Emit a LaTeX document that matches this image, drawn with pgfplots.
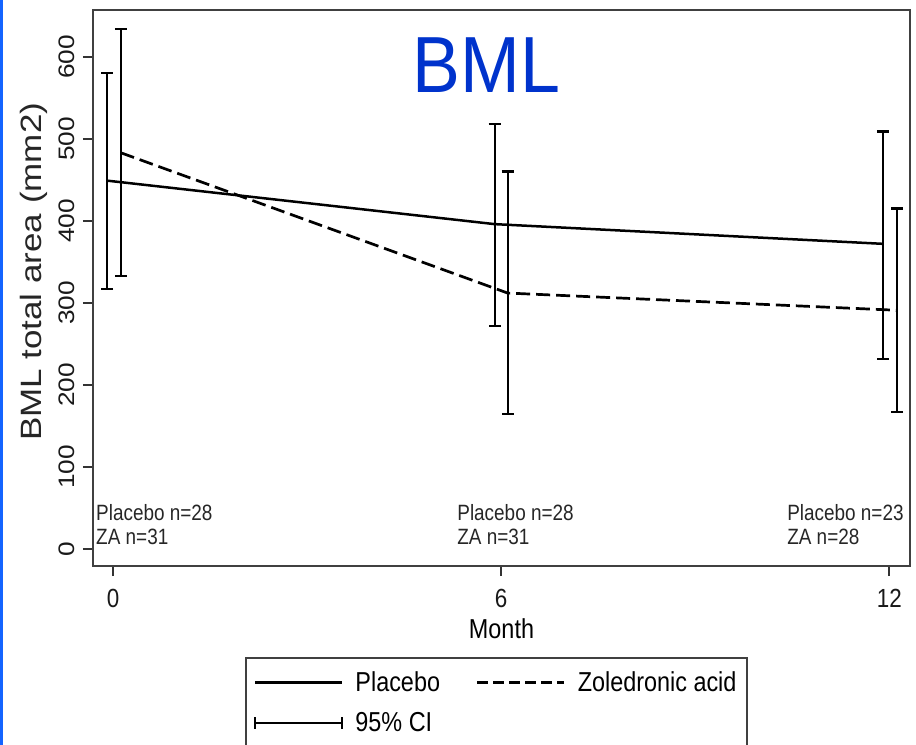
\documentclass[border=0pt]{standalone}
\usepackage{pgfplots}
\pgfplotsset{compat=1.18}
\usepackage{fontspec}
\setmainfont{Liberation Sans}
\usepackage{graphicx}
\definecolor{edgeblue}{RGB}{20,100,255}
\definecolor{titleblue}{RGB}{0,51,204}
\newcommand{\vs}[1]{\scalebox{1}[1.17]{#1}}
\newcommand{\hs}[1]{\scalebox{1.17}[1]{#1}}
\newcommand{\fs}[1]{\fontsize{#1}{#1}\selectfont}
\begin{document}
\begin{tikzpicture}
\path[use as bounding box] (0,0) rectangle (916bp,-745bp);
\clip (0,0) rectangle (916bp,-745bp);
\fill[edgeblue] (0,0) rectangle (2.5bp,-745bp);
\begin{axis}[
  at={(93bp,-566bp)}, anchor=south west,
  width=817bp, height=556bp, scale only axis,
  xmin=-0.31, xmax=12.32, ymin=-20.7, ymax=657,
  axis line style={line width=2.6bp, black!75},
  xtick={0,6,12}, ytick={0,100,200,300,400,500,600},
  xticklabels={\vs{0},\vs{6},\vs{12}},
  yticklabels={\hs{0},\hs{100},\hs{200},\hs{300},\hs{400},\hs{500},\hs{600}},
  xtick pos=bottom, ytick pos=left,
  tick align=outside, major tick length=10bp,
  tick style={line width=1.8bp, black!80},
  tick label style={font=\fs{22.5}, black!90},
  yticklabel style={rotate=90, anchor=south},
  yticklabel shift=5bp,
  xticklabel style={anchor=north},
  xticklabel shift=10bp,
  xlabel={\vs{Month}},
  xlabel style={font=\fs{23.5}, at={(axis description cs:0.5,0)}, anchor=base, yshift=-72bp},
  ylabel={\scalebox{1.19}[1]{BML total area (mm2)}},
  ylabel style={font=\fs{29.5}, at={(axis description cs:-0.0722,0.529)}, anchor=center, black!85},
  legend image code/.code={\draw[#1] (0bp,0bp) -- (87bp,0bp);},
  legend columns=2,
  legend cell align=left,
  legend style={at={(axis description cs:0.186,-0.1637)}, anchor=north west,
    draw=black!75, line width=2bp, fill=white, font=\fs{23.5},
    inner xsep=8bp, inner ysep=12bp, row sep=15bp,
    /tikz/every odd column/.append style={column sep=10bp},
    /tikz/every even column/.append style={column sep=34bp}},
  clip=false,
]
\addplot[forget plot, black, line width=2.5bp, no marks,
  error bars/.cd, y dir=both, y explicit, error mark=-,
  error bar style={line width=2.3bp, solid},
  error mark options={rotate=90, line width=2.3bp, mark size=6bp, solid}]
  coordinates {(-0.09,449) += (0,131) -= (0,132)
               (5.9,396) += (0,122) -= (0,124)
               (11.9,372) += (0,137) -= (0,140)};
\addplot[forget plot, black, line width=2.7bp, no marks, dash pattern=on 14bp off 6bp,
  error bars/.cd, y dir=both, y explicit, error mark=-,
  error bar style={line width=2.3bp, solid},
  error mark options={rotate=90, line width=2.3bp, mark size=6bp, solid}]
  coordinates {(0.12,483) += (0,151) -= (0,150)
               (6.1,312) += (0,148) -= (0,147)
               (12.12,291) += (0,124) -= (0,124)};
\addlegendimage{black, line width=2.5bp}
\addlegendentry{\vs{Placebo}}
\addlegendimage{black, line width=2.7bp, dash pattern=on 11bp off 5bp}
\addlegendentry{\vs{Zoledronic acid}}
\addlegendimage{legend image code/.code={\draw[black, line width=2.3bp] (0bp,0bp) -- (87bp,0bp);
   \draw[black, line width=2bp] (0bp,-6bp) -- (0bp,6bp);
   \draw[black, line width=2bp] (87bp,-6bp) -- (87bp,6bp);}}
\addlegendentry{\vs{95\% CI}}
\node[anchor=base, font=\fs{72}, text=titleblue, inner sep=0pt] at (axis cs:5.77,557) {\scalebox{1}[1.11]{BML}};
\node[anchor=base west, font=\fs{19}, inner sep=0pt, black!85] at (axis cs:-0.263,35.3) {\vs{Placebo n=28}};
\node[anchor=base west, font=\fs{19}, inner sep=0pt, black!85] at (axis cs:-0.263,6.1) {\vs{ZA n=31}};
\node[anchor=base west, font=\fs{19}, inner sep=0pt, black!85] at (axis cs:5.32,35.3) {\vs{Placebo n=28}};
\node[anchor=base west, font=\fs{19}, inner sep=0pt, black!85] at (axis cs:5.32,6.1) {\vs{ZA n=31}};
\node[anchor=base west, font=\fs{19}, inner sep=0pt, black!85] at (axis cs:10.42,35.3) {\vs{Placebo n=23}};
\node[anchor=base west, font=\fs{19}, inner sep=0pt, black!85] at (axis cs:10.42,6.1) {\vs{ZA n=28}};
\end{axis}
\end{tikzpicture}
\end{document}
